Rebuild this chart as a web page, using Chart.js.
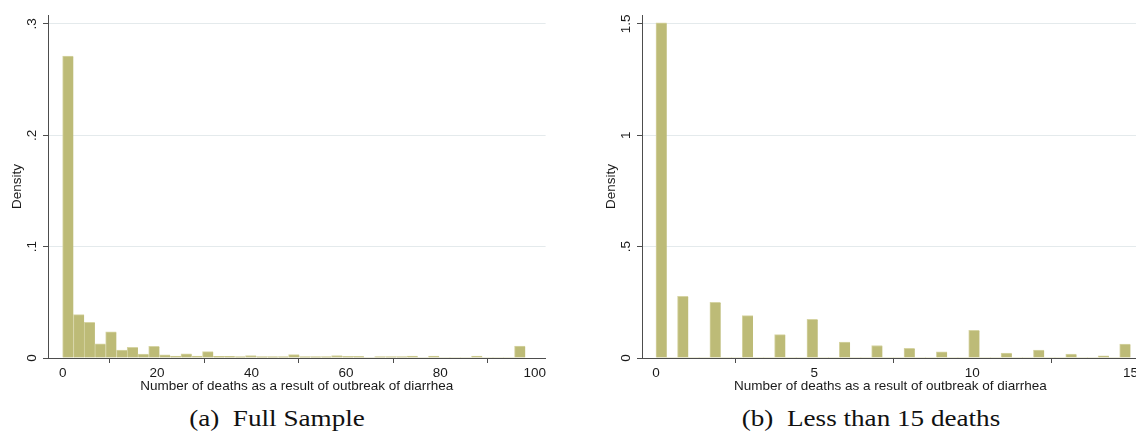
<!DOCTYPE html>
<html>
<head>
<meta charset="utf-8">
<title>Deaths from diarrhea outbreaks</title>
<script src="https://cdn.jsdelivr.net/npm/chart.js@4.4.1/dist/chart.umd.min.js"></script>
<style>
    html, body { margin: 0; padding: 0; background: #fff; }
    body { width: 1136px; height: 435px; overflow: hidden; position: relative; }
    canvas { position: absolute; top: 0; }
    #fullChart { left: 0; }
    #smallChart { left: 594px; }
    .caption {
        position: absolute;
        top: 406px;
        font-family: 'Liberation Serif', 'Times New Roman', serif;
        font-size: 23px;
        line-height: 26px;
        color: #111;
        white-space: pre;
        transform: translateX(-50%) scaleX(1.18);
    }
</style>
</head>
<body>
<canvas id="fullChart" width="548" height="396"></canvas>
<canvas id="smallChart" width="546" height="396"></canvas>
<div class="caption" style="left:277px">(a)  Full Sample</div>
<div class="caption" style="left:871px">(b)  Less than 15 deaths</div>

<script>
// Panel (a): full sample, 43 equal bins over 0-98 deaths
const fullBinCount = 43;
const fullMaxDeaths = 98;
const fullDensity = [
    0.271, 0.039, 0.032, 0.0127, 0.0234, 0.0070, 0.0095, 0.0036, 0.0105, 0.0028,
    0.0018, 0.0038, 0.0018, 0.0057, 0.0015, 0.0015, 0.0012, 0.0022, 0.0012, 0.0012,
    0.0012, 0.0030, 0.0012, 0.0012, 0.0012, 0.0022, 0.0014, 0.0014, 0, 0.0013,
    0.0013, 0.0013, 0.0018, 0, 0.0018, 0, 0, 0, 0.0018, 0,
    0, 0, 0.0108
];
const fullXTicks = [0, 20, 40, 60, 80, 100];
const fullYTicks = [0, 0.1, 0.2, 0.3];

// Panel (b): outbreaks with fewer than 15 deaths, 44 equal bins over 0-15
const smallBinCount = 44;
const smallMaxDeaths = 15;
const smallDeaths = [0, 1, 2, 3, 4, 5, 6, 7, 8, 9, 10, 11, 12, 13, 14, 15];
const smallDensity = [
    1.505, 0.277, 0.250, 0.190, 0.105, 0.174, 0.072, 0.056,
    0.043, 0.028, 0.124, 0.022, 0.036, 0.018, 0.010, 0.063
];
const smallXTicks = [0, 5, 10, 15];
const smallYTicks = [0, 0.5, 1, 1.5];

const xTitle = 'Number of deaths as a result of outbreak of diarrhea';

// Stata-ish look
const barFill = '#bdbb77';
const barEdge = '#d6d4a3';
const axisColour = '#4d4d4d';
const gridColour = '#e4eaec';

Chart.defaults.font.family = "'Liberation Sans', Arial, sans-serif";
Chart.defaults.color = '#1a1a1a';

/**
 * Centre of every bin when [0, maxDeaths] is cut into count equal bins
 */
function binCentres(count, maxDeaths) {
    const width = maxDeaths / count;
    return Array.from({ length: count }, (_, i) => (i + 0.5) * width);
}

/**
 * Put each integer death count into its bin (empty bins stay 0)
 */
function fillBins(count, maxDeaths, deaths, density) {
    const width = maxDeaths / count;
    const bins = new Array(count).fill(0);
    deaths.forEach((d, i) => {
        const k = Math.min(count - 1, Math.floor(d / width + 1e-9));
        bins[k] = density[i];
    });
    return bins;
}

// Density labels in Stata style: .1 instead of 0.1
function formatDensity(v) {
    return v === 0 ? '0' : String(v).replace(/^0\./, '.');
}

function makeHistogram(canvasId, centres, heights, xRange, yRange, xTicks, yTicks, yTickPad) {
    const ctx = document.getElementById(canvasId);
    if (!ctx) return null;

    return new Chart(ctx, {
        type: 'bar',
        data: {
            datasets: [{
                data: centres.map((x, i) => ({ x: x, y: heights[i] })),
                backgroundColor: barFill,
                borderColor: barEdge,
                borderWidth: c => (c.raw && c.raw.y > 0 ? { top: 1, left: 1, right: 0, bottom: 0 } : 0),
                borderSkipped: false,
                barPercentage: 1,
                categoryPercentage: 1
            }]
        },
        options: {
            responsive: false,
            animation: false,
            events: [],
            layout: { padding: { top: 15, left: 0, right: 0, bottom: 0 } },
            plugins: {
                legend: { display: false },
                tooltip: { enabled: false }
            },
            scales: {
                x: {
                    type: 'linear',
                    min: xRange[0],
                    max: xRange[1],
                    offset: false,
                    afterBuildTicks: s => { s.ticks = xTicks.map(v => ({ value: v })); },
                    afterFit: s => { s.height = 38; },
                    grid: {
                        drawOnChartArea: false,
                        drawTicks: true,
                        tickLength: 5,
                        tickColor: axisColour
                    },
                    border: { color: axisColour, width: 1 },
                    ticks: {
                        font: { size: 13.5 },
                        padding: 2,
                        maxRotation: 0,
                        callback: v => String(v)
                    },
                    title: {
                        display: true,
                        text: xTitle,
                        font: { size: 13.5 },
                        padding: { top: 0, bottom: 2 }
                    }
                },
                y: {
                    min: yRange[0],
                    max: yRange[1],
                    afterBuildTicks: s => { s.ticks = yTicks.map(v => ({ value: v })); },
                    afterFit: s => { s.width = 48; },
                    grid: {
                        color: c => (c.tick && c.tick.value === 0 ? 'rgba(0,0,0,0)' : gridColour),
                        tickLength: 5,
                        tickColor: axisColour
                    },
                    border: { color: axisColour, width: 1 },
                    ticks: {
                        font: { size: 13.5 },
                        minRotation: 90,
                        maxRotation: 90,
                        crossAlign: 'center',
                        padding: yTickPad,
                        callback: v => formatDensity(v)
                    },
                    title: {
                        display: true,
                        text: 'Density',
                        font: { size: 13.5 },
                        padding: { top: 9, bottom: 0 }
                    }
                }
            }
        }
    });
}

makeHistogram(
    'fullChart',
    binCentres(fullBinCount, fullMaxDeaths),
    fullDensity,
    [-3.1, 102.3], [0, 0.308],
    fullXTicks, fullYTicks, 5.4
);

makeHistogram(
    'smallChart',
    binCentres(smallBinCount, smallMaxDeaths),
    fillBins(smallBinCount, smallMaxDeaths, smallDeaths, smallDensity),
    [-0.4415, 15.26], [0, 1.54],
    smallXTicks, smallYTicks, 1.6
);
</script>
</body>
</html>
